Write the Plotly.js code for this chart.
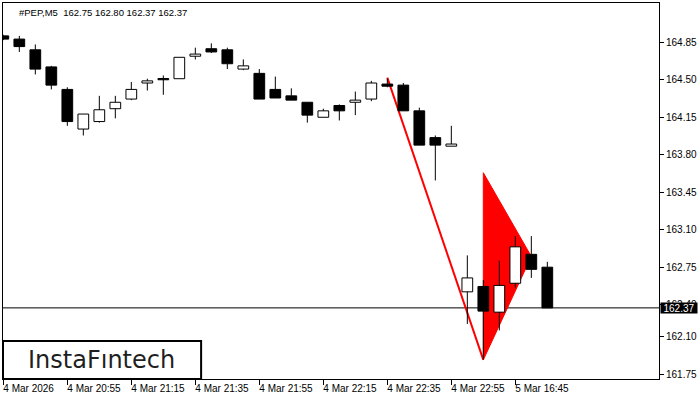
<!DOCTYPE html>
<html>
<head>
<meta charset="utf-8">
<script src="https://cdn.plot.ly/plotly-3.0.1.min.js"></script>
<style>html,body{margin:0;padding:0;background:#fff;}#chart{width:700px;height:400px;}</style>
</head>
<body>
<div id="chart"></div>
<script>
// ---- data ----
const symbol = "#PEP,M5";
const opens  = [164.91,164.88,164.78,164.62,164.41,164.04,164.11,164.23,164.32,164.47,164.50,164.51,164.72,164.79,164.78,164.60,164.56,164.41,164.35,164.29,164.15,164.26,164.29,164.32,164.46,164.45,164.21,163.96,163.88,162.52,162.57,162.33,162.60,162.87,162.75];
const highs  = [164.92,164.91,164.83,164.63,164.43,164.18,164.35,164.35,164.48,164.51,164.54,164.71,164.80,164.84,164.80,164.69,164.60,164.53,164.42,164.29,164.23,164.27,164.39,164.49,164.51,164.47,164.24,163.98,164.07,162.86,162.63,162.81,163.04,163.04,162.80];
const lows   = [164.87,164.76,164.55,164.41,164.07,163.98,164.10,164.14,164.31,164.40,164.36,164.51,164.69,164.75,164.60,164.59,164.32,164.33,164.31,164.10,164.15,164.12,164.17,164.30,164.43,164.21,163.89,163.56,163.88,162.22,161.89,162.16,162.56,162.65,162.37];
const closes = [164.88,164.81,164.60,164.45,164.11,164.18,164.22,164.29,164.41,164.49,164.50,164.71,164.74,164.76,164.65,164.63,164.32,164.33,164.31,164.17,164.21,164.21,164.31,164.47,164.44,164.21,163.89,163.89,163.90,162.65,162.34,162.58,162.94,162.73,162.37];
const timeTickIdx = [0,4,8,12,16,20,24,28,32];
const timeLabels = ["4 Mar 2026","4 Mar 20:55","4 Mar 21:15","4 Mar 21:35","4 Mar 21:55","4 Mar 22:15","4 Mar 22:35","4 Mar 22:55","5 Mar 16:45"];
const priceTicks = [164.85,164.50,164.15,163.80,163.45,163.10,162.75,162.40,162.10,161.75];
const lastPrice = 162.37;
// pattern (flagpole + pennant) in bar index / price
const poleX = [24, 30];
const poleY = [164.52, 161.885];
const pennantX = [30, 30, 33];
const pennantY = [163.632, 161.885, 162.85];

// ---- build traces ----
const idx = opens.map((_, i) => i);
const bodyBase = [], bodyLen = [], bodyColor = [];
const wx = [], wy = [];
for (let i = 0; i < opens.length; i++) {
  const top = Math.max(opens[i], closes[i]);
  const bot = Math.min(opens[i], closes[i]);
  bodyBase.push(bot);
  bodyLen.push(Math.max(top - bot, 0.012));
  bodyColor.push(closes[i] > opens[i] ? "#ffffff" : "#000000");
  if (highs[i] > top) { wx.push(i, i, null); wy.push(highs[i], top, null); }
  if (lows[i] < bot) { wx.push(i, i, null); wy.push(bot, lows[i], null); }
}

const wicks = {
  type: "scatter", mode: "lines", x: wx, y: wy,
  line: {color: "#000000", width: 1}, hoverinfo: "skip", connectgaps: false
};
const bodies = {
  type: "bar", x: idx, y: bodyLen, base: bodyBase, width: 0.67,
  marker: {color: bodyColor, line: {color: "#000000", width: 1}},
  hoverinfo: "skip"
};

const pennantPath = "M " + pennantX.map((x, k) => x + "," + pennantY[k]).join(" L ") + " Z";

const f = "Liberation Sans, Arial, sans-serif";
const last = opens.length - 1;
const header = symbol + "  " + [opens[last], highs[last], lows[last], closes[last]].map(v => v.toFixed(2)).join(" ");

const layout = {
  width: 700, height: 400,
  margin: {l: 3, r: 41, t: 3, b: 21, pad: 0},
  paper_bgcolor: "#ffffff", plot_bgcolor: "#ffffff",
  showlegend: false, barmode: "overlay",
  font: {family: f, size: 10, color: "#000000"},
  xaxis: {
    range: [-0.02, 40.98], tickmode: "array", tickvals: timeTickIdx, ticktext: timeLabels,
    ticks: "outside", ticklen: 5, tickcolor: "#000000", tickwidth: 1,
    ticklabelposition: "outside right", ticklabelshift: -1,
    tickfont: {family: f, size: 10, color: "#000000"},
    showgrid: false, zeroline: false, showline: true, mirror: true,
    linecolor: "#000000", linewidth: 1, fixedrange: true, automargin: false
  },
  yaxis: {
    side: "right", range: [161.706, 165.217], tickmode: "array",
    tickvals: priceTicks, ticktext: priceTicks.map(v => v.toFixed(2)),
    ticks: "outside", ticklen: 4, tickcolor: "#000000", tickwidth: 1,
    tickfont: {family: f, size: 10, color: "#000000"},
    showgrid: false, zeroline: false, showline: true, mirror: true,
    linecolor: "#000000", linewidth: 1, fixedrange: true, automargin: false
  },
  shapes: [
    {type: "path", xref: "x", yref: "y", path: pennantPath, fillcolor: "#ff0000",
     line: {color: "#ff0000", width: 1}, layer: "below"},
    {type: "line", xref: "x", yref: "y", x0: poleX[0], y0: poleY[0], x1: poleX[1], y1: poleY[1],
     line: {color: "#ff0000", width: 2}, layer: "below"},
    {type: "line", xref: "paper", yref: "y", x0: 0, x1: 1, y0: lastPrice, y1: lastPrice,
     line: {color: "#000000", width: 1}, layer: "below"},
    {type: "rect", xref: "paper", yref: "paper", x0: 0, x1: 0.302, y0: 0, y1: 0.101,
     fillcolor: "#ffffff", line: {color: "#000000", width: 2}, layer: "above"}
  ],
  annotations: [
    {xref: "paper", yref: "paper", x: 0, y: 1, xanchor: "left", yanchor: "top",
     xshift: 14, yshift: -2, text: header, showarrow: false,
     font: {family: f, size: 9.5, color: "#000000"}},
    {xref: "paper", yref: "y", x: 1, y: lastPrice, xanchor: "left", yanchor: "middle",
     xshift: 1, text: lastPrice.toFixed(2), showarrow: false, bgcolor: "#000000",
     width: 36, height: 10, borderpad: 0,
     font: {family: f, size: 10, color: "#ffffff"}},
    {xref: "paper", yref: "paper", x: 0.15, y: 0.05, xanchor: "center", yanchor: "middle",
     text: "InstaFıntech", showarrow: false,
     font: {family: "DejaVu Sans, sans-serif", size: 24, color: "#1f1f1f"}}
  ]
};

Plotly.newPlot("chart", [bodies, wicks], layout, {staticPlot: true, displayModeBar: false});
</script>
</body>
</html>
